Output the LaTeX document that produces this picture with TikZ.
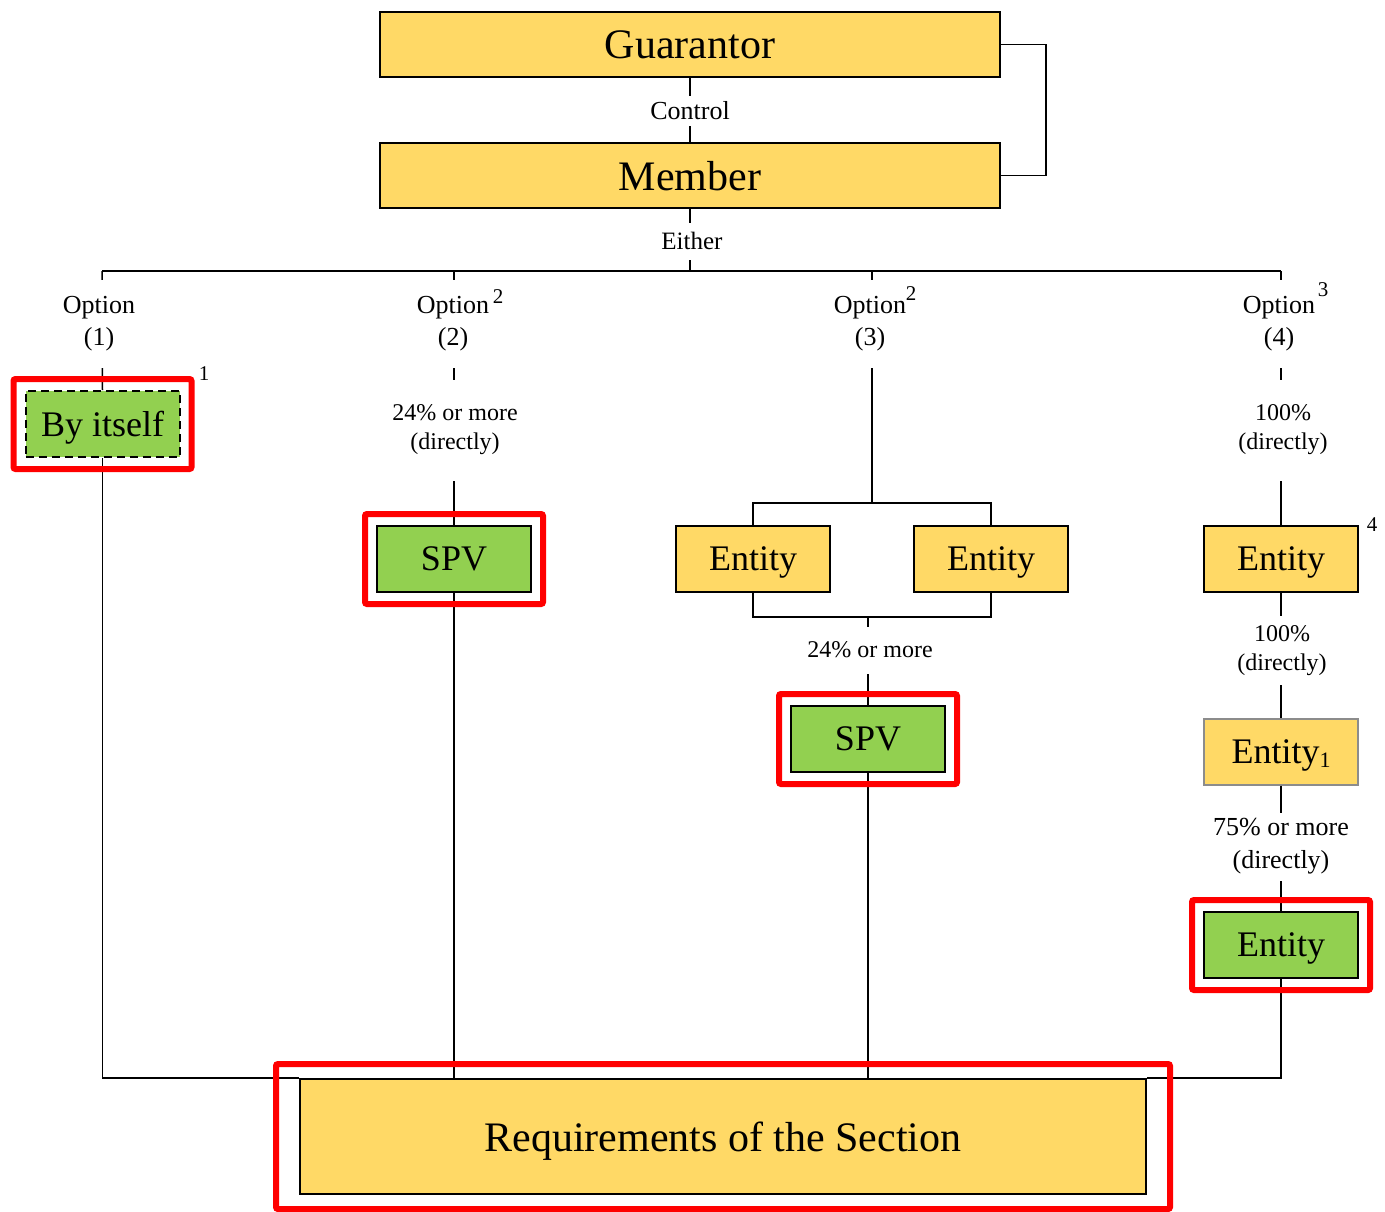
\documentclass[tikz,border=0pt]{standalone}
\usepackage{fontspec}
\setmainfont{Liberation Serif}
\usepackage{xcolor}
\usetikzlibrary{fit}
\definecolor{boxyellow}{RGB}{255,217,102}
\definecolor{boxgreen}{RGB}{146,208,80}
\definecolor{redline}{RGB}{255,0,0}

\begin{document}
\begin{tikzpicture}[x=0.5pt,y=-0.5pt,
  ybox/.style={draw=black,line width=1pt,fill=boxyellow,minimum width=77pt,minimum height=33pt,inner sep=0pt,text depth=0pt,font=\fontsize{18}{20}\selectfont},
  gbox/.style={ybox,fill=boxgreen},
  widebox/.style={ybox,minimum width=310pt,minimum height=32.5pt,font=\fontsize{21}{24}\selectfont},
  lbl/.style={fill=white,inner sep=0pt,align=center,font=\fontsize{12}{14.5}\selectfont},
  optlbl/.style={lbl,minimum height=44pt,font=\fontsize{13}{16}\selectfont},
  note/.style={inner sep=0pt,font=\fontsize{10.5}{12}\selectfont},
  redframe/.style={draw=redline,line width=3pt,inner sep=5.5pt,rounded corners=1pt},
  wire/.style={line width=0.75pt}]
\useasboundingbox (0,0) rectangle (1385,1211);
% Drawing boxes
\node[widebox] (guar) at (690,44.5) {Guarantor};
\node[widebox] (memb) at (690,175.5) {Member};
% Option 1
\node[gbox,dash pattern=on 4pt off 2.5pt] (self1) at (102.5,424) {By itself};
% Option 2
\node[gbox] (spv2) at (454,559) {SPV};
% Option 3
\node[ybox] (ent3a) at (753,559) {Entity};
\node[ybox] (ent3b) at (991,559) {Entity};
\node[gbox] (spv3) at (868,739) {SPV};
% Option 4
\node[ybox] (ent4a) at (1281,559) {Entity};
\node[ybox,draw=black!45,line width=0.6pt] (ent4b) at (1281,752) {Entity\raisebox{-2pt}{\fontsize{11}{12}\selectfont 1}};
\node[gbox] (ent4c) at (1281,945) {Entity};
\node[ybox,minimum width=423pt,minimum height=57.5pt,font=\fontsize{21}{24}\selectfont] (req) at (723,1136.5) {Requirements of the Section};
% Done with boxes; drawing lines
\coordinate (bus1) at (102,271);
\coordinate (bus4) at (1281,271);
\coordinate (top3) at (872,503);
\coordinate (bot3) at (868,617);
\draw[wire] (guar.south) -- (memb.north);
\draw[wire] (guar.east) -- ++(45,0) |- (memb.east);
\draw[wire] (memb.south) -- (memb.south |- bus1);
\draw[wire] (bus1) -- (bus4);
\draw[wire] (bus1) -- (self1.north);
\draw[wire] (spv2.north |- bus1) -- (spv2.north);
\draw[wire] (top3 |- bus1) -- (top3);
\draw[wire] (ent3a.north) |- (top3) -| (ent3b.north);
\draw[wire] (ent3a.south) |- (bot3) -| (ent3b.south);
\draw[wire] (bot3) -- (spv3.north);
\draw[wire] (bus4) -- (ent4a.north);
\draw[wire] (ent4a.south) -- (ent4b.north);
\draw[wire] (ent4b.south) -- (ent4c.north);
\draw[wire] (self1.south) |- (req.north west);
\draw[wire] (spv2.south) -- (spv2.south |- req.north);
\draw[wire] (spv3.south) -- (spv3.south |- req.north);
\draw[wire] (ent4c.south) |- (req.north east);
% Done with lines; drawing labels
\node[lbl,minimum height=15pt,font=\fontsize{13}{15}\selectfont] (ctrl) at (690,111) {Control};
\node[lbl,minimum height=18.5pt,font=\fontsize{12.5}{15}\selectfont] (either) at (692,241) {Either};
\node[optlbl] (opt1) at (99,324) {Option\\(1)};
\node[optlbl] (opt2) at (453,324) {Option\\(2)};
\node[optlbl] (opt3) at (870,324) {Option\\(3)};
\node[optlbl] (opt4) at (1279,324) {Option\\(4)};
\node[lbl,minimum height=50.5pt] (pct2) at (455,430) {24\% or more\\(directly)};
\node[lbl,minimum height=50.5pt] (pct4a) at (1283,430) {100\%\\(directly)};
\node[lbl,minimum height=23.5pt] (pct3) at (870,650) {24\% or more};
\node[lbl,minimum height=34.5pt] (pct4b) at (1282,650.5) {100\%\\(directly)};
\node[lbl,minimum height=34pt,font=\fontsize{13}{16.5}\selectfont] (pct4c) at (1281,846.5) {75\% or more\\(directly)};
% Notes
\node[note] (n1) at (204,374) {1};
\node[note] (n2) at (498,297) {2};
\node[note] (n3) at (911,294) {2};
\node[note] (n4) at (1323,290) {3};
\node[note] (n5) at (1372,525) {4};
% Done with labels; drawing highlight frames
\node[redframe,fit=(self1)] (hl1) {};
\node[redframe,fit=(spv2)] (hl2) {};
\node[redframe,fit=(spv3)] (hl3) {};
\node[redframe,fit=(ent4c)] (hl4) {};
\node[redframe,fit=(req),inner xsep=11.5pt,inner ysep=7pt] (hl5) {};
\end{tikzpicture}
\end{document}
